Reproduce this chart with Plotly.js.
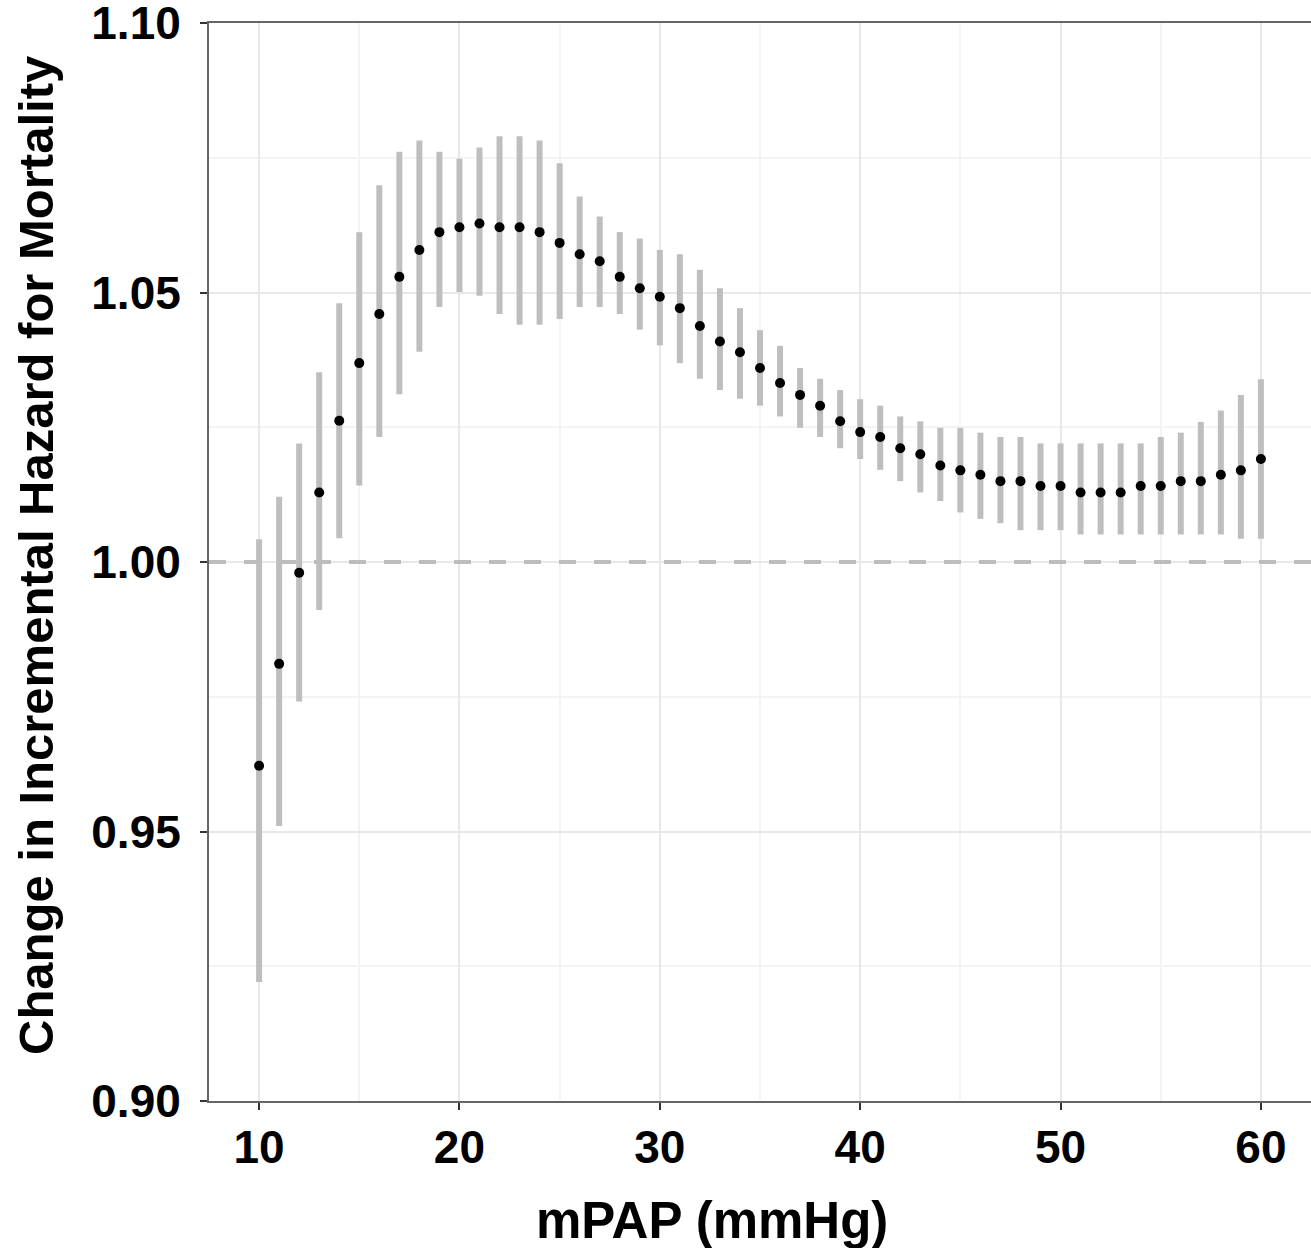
<!DOCTYPE html>
<html>
<head>
<meta charset="utf-8">
<script src="https://cdn.plot.ly/plotly-3.0.1.min.js"></script>
<style>
  html, body { margin: 0; padding: 0; background: #ffffff; }
  #chart { width: 1311px; height: 1248px; }
</style>
</head>
<body>
<div id="chart"></div>
<script>
// mPAP values (mmHg)
const mpap = [10,11,12,13,14,15,16,17,18,19,20,21,22,23,24,25,26,27,28,29,30,
              31,32,33,34,35,36,37,38,39,40,41,42,43,44,45,46,47,48,49,50,
              51,52,53,54,55,56,57,58,59,60];
// point estimate of change in incremental hazard
const estimate = [0.9622,0.9811,0.9980,1.0129,1.0262,1.0369,1.0460,1.0529,1.0579,1.0612,1.0621,
                  1.0628,1.0621,1.0621,1.0612,1.0592,1.0571,1.0558,1.0529,1.0508,1.0492,
                  1.0471,1.0438,1.0409,1.0389,1.0360,1.0332,1.0310,1.0290,1.0261,1.0241,
                  1.0232,1.0211,1.0200,1.0179,1.0170,1.0162,1.0150,1.0150,1.0141,1.0141,
                  1.0129,1.0129,1.0129,1.0141,1.0141,1.0150,1.0150,1.0162,1.0170,1.0191];
// lower confidence bound
const lower = [0.9221,0.9510,0.9741,0.9911,1.0044,1.0142,1.0232,1.0311,1.0390,1.0473,1.0501,
               1.0494,1.0460,1.0440,1.0440,1.0451,1.0473,1.0473,1.0460,1.0431,1.0402,
               1.0369,1.0340,1.0319,1.0303,1.0290,1.0270,1.0249,1.0232,1.0211,1.0191,
               1.0171,1.0150,1.0129,1.0113,1.0092,1.0080,1.0072,1.0059,1.0059,1.0059,
               1.0051,1.0051,1.0051,1.0051,1.0051,1.0051,1.0051,1.0051,1.0043,1.0043];
// upper confidence bound
const upper = [1.0042,1.0121,1.0220,1.0352,1.0480,1.0612,1.0699,1.0761,1.0782,1.0761,1.0748,
               1.0769,1.0790,1.0790,1.0782,1.0740,1.0678,1.0641,1.0612,1.0600,1.0579,
               1.0571,1.0542,1.0508,1.0471,1.0430,1.0401,1.0360,1.0340,1.0319,1.0302,
               1.0290,1.0270,1.0261,1.0249,1.0249,1.0240,1.0232,1.0232,1.0220,1.0220,
               1.0220,1.0220,1.0220,1.0220,1.0232,1.0240,1.0260,1.0281,1.0310,1.0339];
const xTicks = [10,20,30,40,50,60];
const yTicks = [0.90,0.95,1.00,1.05,1.10];
const yTickText = ['0.90','0.95','1.00','1.05','1.10'];
const referenceValue = 1.00;
const xTitle = 'mPAP (mmHg)';
const yTitle = 'Change in Incremental Hazard for Mortality';

const errPlus = upper.map((u, i) => u - estimate[i]);
const errMinus = estimate.map((e, i) => e - lower[i]);

const FONT = 'Liberation Sans, Arial, Helvetica, sans-serif';

const trace = {
  type: 'scatter',
  mode: 'markers',
  x: mpap,
  y: estimate,
  marker: { color: '#000000', size: 10 },
  error_y: {
    type: 'data',
    symmetric: false,
    array: errPlus,
    arrayminus: errMinus,
    color: '#bebebe',
    thickness: 6,
    width: 0
  },
  hoverinfo: 'x+y',
  showlegend: false
};

const layout = {
  width: 1311,
  height: 1248,
  margin: { l: 209, r: 0, t: 23, b: 147 },
  paper_bgcolor: '#ffffff',
  plot_bgcolor: '#ffffff',
  font: { family: FONT, color: '#000000' },
  xaxis: {
    range: [7.5, 62.5],
    tickvals: xTicks,
    ticktext: xTicks.map(String),
    ticks: 'outside',
    ticklen: 7,
    tickwidth: 2,
    tickcolor: '#333333',
    ticklabelstandoff: -2,
    ticklabeloverflow: 'allow',
    tickfont: { family: FONT, size: 46, weight: 'bold', color: '#000000' },
    showline: true,
    linecolor: '#666666',
    linewidth: 2,
    mirror: true,
    showgrid: true,
    gridcolor: '#e8e8e8',
    gridwidth: 2,
    minor: { tickvals: [15,25,35,45,55], showgrid: true, gridcolor: '#f4f4f4', gridwidth: 2, ticks: '' },
    zeroline: false
  },
  yaxis: {
    range: [0.90, 1.10],
    tickvals: yTicks,
    ticktext: yTickText,
    ticks: 'outside',
    ticklen: 7,
    tickwidth: 2,
    tickcolor: '#333333',
    ticklabelstandoff: 10,
    ticklabeloverflow: 'allow',
    tickfont: { family: FONT, size: 46, weight: 'bold', color: '#000000' },
    showline: true,
    linecolor: '#666666',
    linewidth: 2,
    mirror: false,
    showgrid: true,
    gridcolor: '#e8e8e8',
    gridwidth: 2,
    minor: { tickvals: [0.925,0.975,1.025,1.075], showgrid: true, gridcolor: '#f4f4f4', gridwidth: 2, ticks: '' },
    zeroline: false
  },
  shapes: [{
    type: 'line',
    xref: 'paper', x0: 0, x1: 1,
    yref: 'y', y0: referenceValue, y1: referenceValue,
    line: { color: '#bdbdbd', width: 4, dash: '17px,18px' },
    layer: 'above'
  }],
  annotations: [
    {
      text: xTitle, showarrow: false,
      xref: 'paper', x: (712 - 209) / 1102, xanchor: 'center',
      yref: 'paper', y: (1101 - 1220) / 1078, yanchor: 'middle',
      font: { family: FONT, size: 51, weight: 'bold', color: '#000000' }
    },
    {
      text: yTitle, showarrow: false, textangle: -90,
      xref: 'paper', x: (36 - 209) / 1102, xanchor: 'center',
      yref: 'paper', y: (1101 - 556) / 1078, yanchor: 'middle',
      font: { family: FONT, size: 49, weight: 'bold', color: '#000000' }
    }
  ]
};

Plotly.newPlot('chart', [trace], layout, { displayModeBar: false, staticPlot: true });
</script>
</body>
</html>
